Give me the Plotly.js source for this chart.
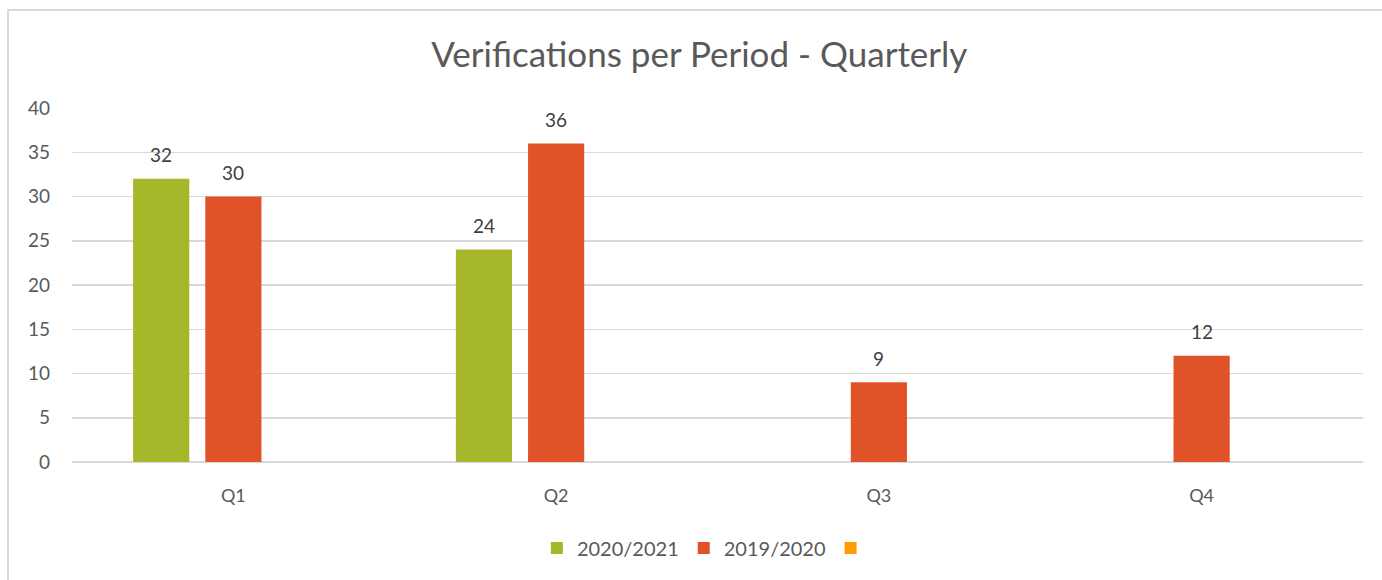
<!DOCTYPE html>
<html>
<head>
<meta charset="utf-8">
<script src="https://cdn.plot.ly/plotly-3.0.1.min.js"></script>
<style>
  html, body { margin: 0; padding: 0; background: #ffffff; }
  #wrap { position: relative; width: 1382px; height: 580px; overflow: hidden; }
  #chart { position: absolute; left: 0; top: 0; width: 1382px; height: 580px; }
  #frame { position: absolute; left: 7px; top: 9px; width: 1400px; height: 600px;
           border-left: 2px solid #d9d9d9; border-top: 2px solid #d9d9d9; pointer-events: none; }
</style>
</head>
<body>
<div id="wrap">
  <div id="chart"></div>
  <div id="frame"></div>
</div>
<script>
const categories = ["Q1", "Q2", "Q3", "Q4"];
const seriesNames = ["2020/2021", "2019/2020", " "];
const values2020_2021 = [32, 24, null, null];
const values2019_2020 = [30, 36, 9, 12];
const values3 = [null, null, null, null];
const colors = ["#a6b829", "#e05328", "#ff9c00"];

const FONT = "Lato, 'Open Sans', sans-serif";
const allSeries = [values2020_2021, values2019_2020, values3];

const traces = allSeries.map((vals, i) => ({
  type: "bar",
  name: seriesNames[i],
  x: categories,
  y: vals,
  marker: { color: colors[i] },
  hoverinfo: "skip"
}));

// data labels above bars
const bargap = 0.329, bargroupgap = 0.222;
const plotW = 1382 - 72 - 19;
const catW = plotW / categories.length;
const slotW = catW * (1 - bargap) / allSeries.length;
const annotations = [];
allSeries.forEach((vals, i) => {
  vals.forEach((v, j) => {
    if (v === null) return;
    annotations.push({
      x: categories[j], y: v, xref: "x", yref: "y",
      text: String(v), showarrow: false,
      xshift: (i - 1) * slotW, yshift: 24,
      yanchor: "middle", xanchor: "center",
      font: { family: FONT, size: 19, color: "#404040" }
    });
  });
});

const layout = {
  width: 1382, height: 580,
  margin: { l: 72, r: 19, t: 108, b: 118 },
  paper_bgcolor: "#ffffff", plot_bgcolor: "#ffffff",
  barmode: "group", bargap: bargap, bargroupgap: bargroupgap,
  title: {
    text: "Verifications per Period - Quarterly",
    x: 0.506, xref: "container", xanchor: "center",
    y: 1 - 55 / 580, yref: "container", yanchor: "middle",
    font: { family: FONT, size: 35, color: "#595959" }
  },
  xaxis: {
    type: "category",
    showgrid: false, zeroline: false, showline: false, ticks: "",
    ticklabelstandoff: 21,
    tickfont: { family: FONT, size: 18, color: "#595959" }
  },
  yaxis: {
    range: [0, 40], dtick: 5, tick0: 0,
    showgrid: true, gridcolor: "#d9d9d9", gridwidth: 1.5,
    zeroline: true, zerolinecolor: "#d9d9d9", zerolinewidth: 1.5,
    showline: false, ticks: "",
    ticklabelstandoff: 21,
    tickfont: { family: FONT, size: 19, color: "#595959" }
  },
  showlegend: true,
  legend: {
    orientation: "h", x: 0.3601, xanchor: "left",
    y: -0.243, yanchor: "middle",
    font: { family: FONT, size: 20, color: "#595959" },
    traceorder: "normal", itemclick: false
  },
  annotations: annotations
};

Plotly.newPlot("chart", traces, layout, { displayModeBar: false, staticPlot: true });
</script>
</body>
</html>
